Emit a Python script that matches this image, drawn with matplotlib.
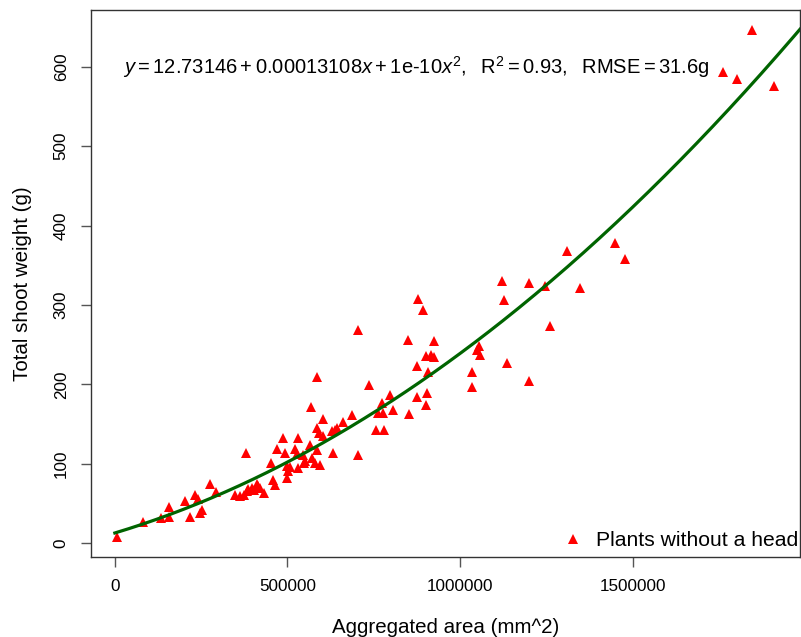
import numpy as np
import matplotlib
matplotlib.use("Agg")
import matplotlib.pyplot as plt

plt.rcParams['font.family'] = ['Liberation Sans', 'DejaVu Sans']
plt.rcParams['mathtext.fontset'] = 'custom'
plt.rcParams['mathtext.rm'] = 'Liberation Sans'
plt.rcParams['mathtext.it'] = 'Liberation Sans:italic'

# aggregated area (mm^2) and total shoot weight (g)
area = [7000, 82000, 133000, 158000, 158000, 204000, 218000, 231000, 240000, 247000,
        253000, 275000, 294000, 349000, 363000, 373000, 383000, 387000, 397000, 402000,
        411000, 416000, 421000, 431000, 380000, 452000, 459000, 464000, 471000, 488000,
        493000, 498000, 499000, 503000, 508000, 522000, 527000, 532000, 532000, 545000,
        551000, 547000, 566000, 568000, 571000, 580000, 587000, 586000, 592000, 602000,
        595000, 602000, 587000, 628000, 638000, 643000, 633000, 662000, 686000, 705000,
        705000, 736000, 757000, 780000, 763000, 776000, 775000, 796000, 805000, 853000,
        875000, 903000, 902000, 848000, 875000, 877000, 892000, 908000, 901000, 917000,
        924000, 924000, 1034000, 1034000, 1050000, 1056000, 1058000, 1121000, 1128000, 1135000,
        1200000, 1200000, 1246000, 1262000, 1311000, 1349000, 1448000, 1479000, 1763000, 1803000,
        1846000, 1909000]
weight = [8, 27, 31, 33, 45, 53, 33, 61, 55, 38,
          42, 75, 64, 60, 59, 61, 65, 68, 69, 67,
          74, 72, 70, 63, 114, 101, 80, 73, 119, 133,
          113, 82, 97, 91, 96, 119, 112, 133, 95, 111,
          104, 101, 123, 172, 107, 101, 117, 145, 139, 135,
          98, 156, 209, 141, 143, 145, 113, 153, 161, 111,
          269, 199, 143, 143, 164, 164, 176, 186, 168, 163,
          184, 189, 174, 256, 223, 307, 294, 215, 236, 237,
          234, 255, 215, 196, 243, 248, 237, 330, 306, 227,
          328, 204, 324, 274, 368, 321, 378, 358, 594, 584,
          646, 576]

# quadratic fit coefficients (intercept, linear, quadratic)
coef = [12.73146, 0.00013108, 9.5e-11]
eq_text = (r'$\mathit{y} = 12.73146 + 0.00013108\mathit{x} + \text{1e-10}\mathit{x}^2,'
           r'\ \ \mathrm{R}^2 = 0.93,\ \ \mathrm{RMSE} = 31.6\mathrm{g}$')

fig = plt.figure(figsize=(8.01, 6.37), dpi=100)
ax = fig.add_axes([91 / 801, 80 / 637, 709 / 801, 547 / 637])

ax.plot(area, weight, '^', color='red', markersize=7.5, markeredgewidth=0,
        label='Plants without a head')

xs = np.linspace(0, 2000000, 300)
ys = coef[0] + coef[1] * xs + coef[2] * xs ** 2
ax.plot(xs, ys, color='#006400', linewidth=2.3)

xr = max(area) - min(area)
yr = max(weight) - min(weight)
ax.set_xlim(min(area) - 0.04 * xr, max(area) + 0.04 * xr)
ax.set_ylim(min(weight) - 0.04 * yr, max(weight) + 0.04 * yr)

ax.set_xticks([0, 500000, 1000000, 1500000])
ax.set_xticklabels(['0', '500000', '1000000', '1500000'])
ax.set_yticks(range(0, 700, 100))
for lab in ax.get_yticklabels():
    lab.set_rotation(90)
    lab.set_va('center')

for s in ax.spines.values():
    s.set_color('#333333')
    s.set_linewidth(1.0)
ax.tick_params(direction='out', length=7, width=1.0, color='#555555',
               labelsize=12.3, pad=9)

ax.set_xlabel('Aggregated area (mm^2)', fontsize=14.8, labelpad=17)
ax.set_ylabel('Total shoot weight (g)', fontsize=14.8, labelpad=16)

ax.text(0.045, 0.895, eq_text, transform=ax.transAxes, fontsize=14.5, va='center')

ax.legend(loc='lower right', frameon=False, fontsize=15.2, handletextpad=0.45,
          borderaxespad=0.0, borderpad=0.0, handlelength=1.2,
          bbox_to_anchor=(0.997, 0.013))

fig.savefig('out.png', dpi=100)
